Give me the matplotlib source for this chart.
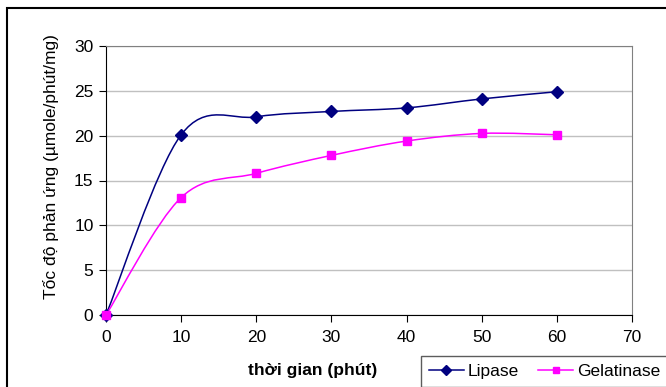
import numpy as np
import matplotlib.pyplot as plt
from matplotlib.path import Path
from matplotlib.patches import PathPatch, Rectangle
from matplotlib.lines import Line2D

# du lieu doc tu hinh
thoi_gian = [0, 10, 20, 30, 40, 50, 60]
lipase = [0, 20.1, 22.1, 22.7, 23.1, 24.1, 24.9]
gelatinase = [0, 13.1, 15.8, 17.8, 19.4, 20.25, 20.1]

plt.rcParams['font.family'] = ['Liberation Sans', 'DejaVu Sans']

fig = plt.figure(figsize=(6.66, 3.87), dpi=100)
ax = fig.add_axes([106/666, 1 - 315/387, 526/666, 269/387])


def duong_cong(x, y):
    # duong cong Bezier kieu Excel (smoothed line)
    x = np.asarray(x, float)
    y = np.asarray(y, float)
    n = len(x)
    verts = [(x[0], y[0])]
    codes = [Path.MOVETO]
    for i in range(n - 1):
        i0 = max(i - 1, 0)
        i3 = min(i + 2, n - 1)
        c1 = (x[i] + (x[i+1] - x[i0]) / 6, y[i] + (y[i+1] - y[i0]) / 6)
        c2 = (x[i+1] - (x[i3] - x[i]) / 6, y[i+1] - (y[i3] - y[i]) / 6)
        verts += [c1, c2, (x[i+1], y[i+1])]
        codes += [Path.CURVE4] * 3
    return Path(verts, codes)


series = [(lipase, '#000080', 'D', 6.5, 'Lipase'),
          (gelatinase, '#FF00FF', 's', 6, 'Gelatinase')]
handles = []
for y, mau, mk, ms, ten in series:
    ax.add_patch(PathPatch(duong_cong(thoi_gian, y), facecolor='none',
                           edgecolor=mau, lw=1.1, zorder=3))
    ax.plot(thoi_gian, y, linestyle='none', marker=mk, markersize=ms,
            color=mau, zorder=4, clip_on=False)
    handles.append(Line2D([], [], color=mau, lw=1.1, marker=mk,
                          markersize=ms - 1))

ax.set_xlim(0, 70)
ax.set_ylim(0, 30)
ax.set_xticks(range(0, 71, 10))
ax.set_yticks(range(0, 31, 5))
ax.grid(axis='y', color='#c0c0c0', lw=1)
ax.set_axisbelow(True)
for s in ['top', 'right']:
    ax.spines[s].set_color('#808080')
for s in ['left', 'bottom']:
    ax.spines[s].set_color('black')
ax.tick_params(axis='x', direction='out', length=5, labelsize=12.5, pad=6)
ax.tick_params(axis='y', direction='out', length=5, labelsize=12.5, pad=4)

ax.set_ylabel('Tốc độ phản ứng (µmole/phút/mg)', fontsize=12.5,
              va='center', ha='center')
ax.yaxis.set_label_coords((51 - 106) / 526, (315 - 167) / 269)
ax.set_xlabel('thời gian (phút)', fontsize=12.5, fontweight='bold',
              va='center', ha='center')
ax.xaxis.set_label_coords((312.5 - 106) / 526, (315 - 371) / 269)

fig.legend(handles, ['Lipase', 'Gelatinase'], ncol=2, loc='upper left',
           bbox_to_anchor=(421/666, 1 - 356/387), fontsize=12.5, frameon=True,
           fancybox=False, edgecolor='#333333', handlelength=2.0,
           handletextpad=0.25, columnspacing=1.1, borderaxespad=0,
           borderpad=0.45)

# khung ngoai
fig.patches.append(Rectangle((7/666, -0.1), 1.2, 1 - 8/387 + 0.1,
                             transform=fig.transFigure, fill=False,
                             edgecolor='black', lw=1.5))

fig.savefig('out.png', dpi=100)
